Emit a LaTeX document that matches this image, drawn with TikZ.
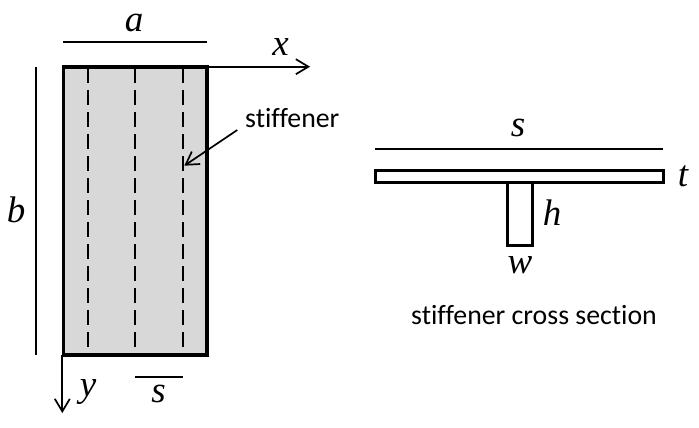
\documentclass[tikz,border=0pt]{standalone}
\usepackage{fontspec}
\setmainfont{Liberation Serif}
\newfontfamily\timesf{Liberation Serif}
\font\calibf="Carlito:-liga;-clig" at 27.8pt
\usetikzlibrary{arrows.meta}
\definecolor{plategray}{RGB}{216,216,216}
\tikzset{
 x=1pt,y=-1pt,
 dimline/.style={line width=1.7pt,black},
 arrowline/.style={line width=1.7pt,black,-{Straight Barb[length=12.5pt,width=15pt,line width=1.7pt]}},
 stiffline/.style={line width=2pt,black,dash pattern=on 15pt off 7pt},
 platebox/.style={draw=black,line width=3.8pt,fill=plategray,line join=miter},
 secbox/.style={draw=black,line width=2.7pt,fill=white},
 mathlabel/.style={font=\fontsize{37}{37}\timesf\itshape,inner sep=0pt,anchor=base},
 textlabel/.style={font=\calibf,inner sep=0pt,anchor=base west},
}
\begin{document}
\begin{tikzpicture}
\useasboundingbox (0,0) rectangle (699,428);
% plate
\draw[platebox] (63.4,67.4) rectangle (207.3,355);
\coordinate (s1t) at (88,68); \coordinate (s1b) at (88,347);
\coordinate (s2t) at (135,68); \coordinate (s2b) at (135,347);
\coordinate (s3t) at (183,68); \coordinate (s3b) at (183,347);
\draw[stiffline] (s1t) -- (s1b);
\draw[stiffline] (s2t) -- (s2b);
\draw[stiffline] (s3t) -- (s3b);
% dimensions
\coordinate (a1) at (63.3,41.7); \coordinate (a2) at (206.7,41.7);
\draw[dimline] (a1) -- (a2);
\coordinate (b1) at (36,67); \coordinate (b2) at (36,354.7);
\draw[dimline] (b1) -- (b2);
\coordinate (s1) at (135,376.7); \coordinate (s2) at (182.7,376.7);
\draw[dimline] (s1) -- (s2);
% axes
\coordinate (xo) at (207,66.7); \coordinate (xe) at (310,66.7);
\draw[arrowline] (xo) -- (xe);
\coordinate (yo) at (62.3,355); \coordinate (ye) at (62.3,413);
\draw[arrowline] (yo) -- (ye);
% labels
\node[mathlabel] (la) at (134,32) {a};
\node[mathlabel] (lx) at (280.5,56) {x};
\node[mathlabel] (lb) at (16,222.5) {b};
\node[mathlabel] (ly) at (88,396) {y};
\node[mathlabel] (ls) at (158.5,402) {s};
\node[textlabel] (stf) at (245,127) {stiffener};
\coordinate (stfa) at (237.3,130); \coordinate (stfb) at (184.3,165.7);
\draw[arrowline] (stfa) -- (stfb);
% cross-section
\coordinate (d1) at (375,148.7); \coordinate (d2) at (663.3,148.7);
\draw[dimline] (d1) -- (d2);
\draw[secbox] (507.5,183) rectangle (532.8,245.5);
\draw[secbox] (375.8,170.8) rectangle (663.5,182.8);
\node[mathlabel] (lss) at (518,136.7) {s};
\node[mathlabel] (lt) at (683,186.7) {t};
\node[mathlabel] (lh) at (552,225) {h};
\node[mathlabel] (lw) at (520,273) {w};
\node[textlabel] (cap) at (411,324) {stiffener cross section};
\end{tikzpicture}
\end{document}
